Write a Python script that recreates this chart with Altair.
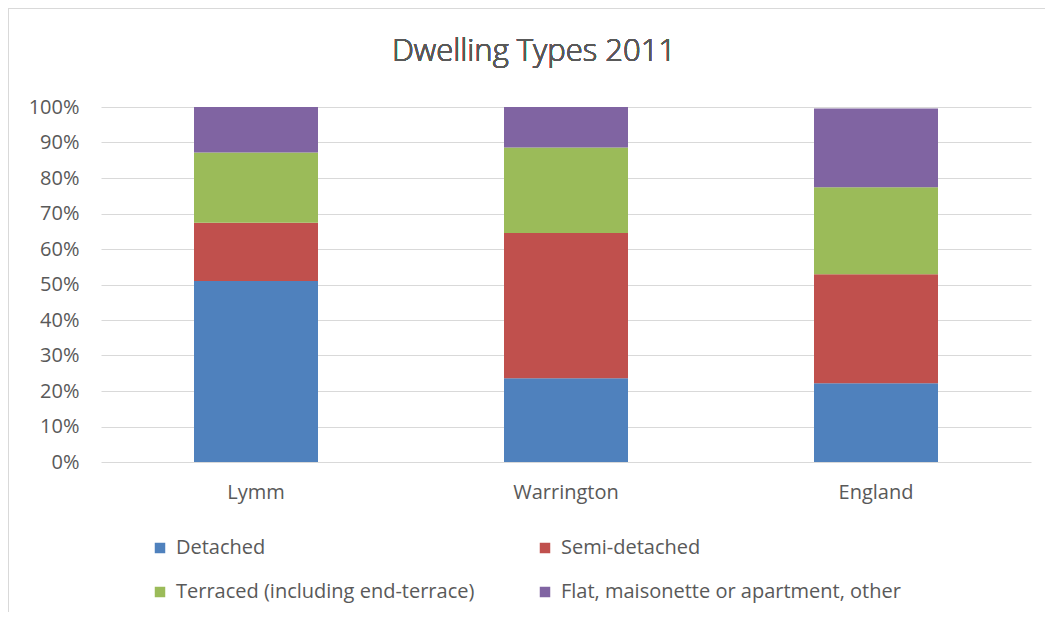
import altair as alt
import pandas as pd

areas = ["Lymm", "Warrington", "England"]
types = [
    "Detached",
    "Semi-detached",
    "Terraced (including end-terrace)",
    "Flat, maisonette or apartment, other",
]
detached = [51.0, 23.6, 22.2]
semi = [16.4, 40.9, 30.7]
terraced = [19.8, 24.1, 24.5]
flat = [12.8, 11.4, 22.2]
colors = ["#4F81BD", "#C0504D", "#9BBB59", "#8064A2"]
title_text = "Dwelling Types 2011"

rows = []
for i, a in enumerate(areas):
    for k, (t, vals) in enumerate(zip(types, [detached, semi, terraced, flat])):
        rows.append({"area": a, "type": t, "order": k, "share": vals[i] / 100.0})
df = pd.DataFrame(rows)

FONT = "Open Sans"
TXT = "#595959"
FS = 20

bars = alt.Chart(df).mark_bar().encode(
    x=alt.X(
        "area:N",
        sort=areas,
        scale=alt.Scale(paddingInner=0.6, paddingOuter=0.3),
        axis=alt.Axis(
            title=None, labelAngle=0, ticks=False, domain=False,
            labelFontSize=FS, labelColor=TXT, labelFont=FONT, labelPadding=20,
        ),
    ),
    y=alt.Y(
        "share:Q",
        stack="zero",
        scale=alt.Scale(domain=[0, 1]),
        axis=alt.Axis(
            title=None, format="%", values=[i / 10 for i in range(11)],
            ticks=False, domain=False, gridColor="#D9D9D9", gridWidth=1,
            labelFontSize=FS, labelColor=TXT, labelFont=FONT, labelPadding=22,
        ),
    ),
    color=alt.Color(
        "type:N",
        sort=types,
        scale=alt.Scale(domain=types, range=colors),
        legend=alt.Legend(
            title=None, orient="none", legendX=49, legendY=431, columns=2,
            direction="horizontal",
            symbolType="square", symbolSize=110, symbolStrokeWidth=0,
            labelFontSize=FS, labelColor=TXT, labelFont=FONT, labelOffset=6,
            columnPadding=60, rowPadding=24, labelLimit=500,
        ),
    ),
    order=alt.Order("order:Q", sort="ascending"),
)

frame = alt.Chart(df).mark_rect(fill=None, stroke="#D9D9D9", strokeWidth=1).encode(
    x=alt.value(-92.5), x2=alt.value(1200), y=alt.value(-98.5), y2=alt.value(800)
)

title = alt.Chart(df).mark_text(
    fontSize=31, font=FONT, fontWeight=300, color=TXT,
    align="center", baseline="middle"
).encode(
    x=alt.value(433), y=alt.value(-55), text=alt.value(title_text)
)

chart = alt.layer(frame, bars, title).properties(
    width=930,
    height=355,
    autosize=alt.AutoSizeParams(type="none"),
    padding={"left": 93, "top": 99, "right": 14, "bottom": 150},
).configure_view(stroke=None)

chart.save("out.html", embed_options={"renderer": "svg", "actions": False})
